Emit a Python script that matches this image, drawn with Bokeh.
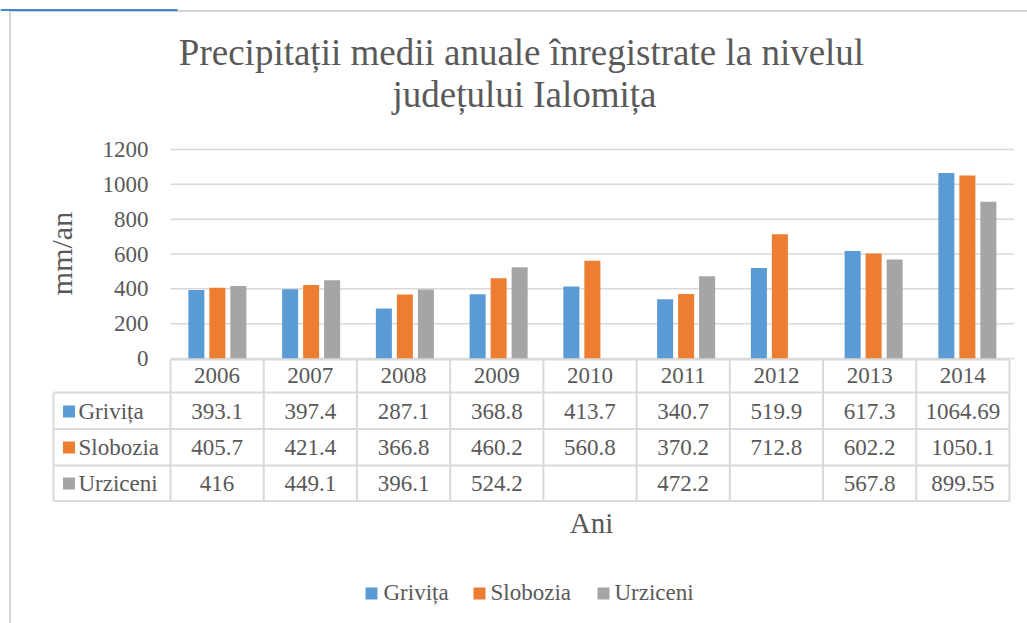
import math
from bokeh.plotting import figure
from bokeh.models import Range1d
from bokeh.core.properties import value
from bokeh.embed import file_html
from bokeh.resources import INLINE

# ---------------- data ----------------
years = ["2006", "2007", "2008", "2009", "2010", "2011", "2012", "2013", "2014"]
series_names = ["Grivița", "Slobozia", "Urziceni"]
grivita = [393.1, 397.4, 287.1, 368.8, 413.7, 340.7, 519.9, 617.3, 1064.69]
slobozia = [405.7, 421.4, 366.8, 460.2, 560.8, 370.2, 712.8, 602.2, 1050.1]
urziceni = [416, 449.1, 396.1, 524.2, None, 472.2, None, 567.8, 899.55]
y_ticks = [0, 200, 400, 600, 800, 1000, 1200]
title_lines = ["Precipitații medii anuale înregistrate la nivelul", "județului Ialomița"]
y_title = "mm/an"
x_title = "Ani"

# ---------------- style ----------------
COLORS = ["#5b9bd5", "#ed7d31", "#a5a5a5"]
TEXT = "#595959"
GRID = "#d9d9d9"

W, H = 1027, 623
PAGE_LEFT, PAGE_TOP = 0, 0
X0_PAGE = 170.0          # page x of category start
X_SCALE = 93.75          # px per category
Y0_PAGE = 358.0          # page y of value 0
Y_SCALE = (358.0 - 149.0) / 1200.0  # px per mm


def gx(px):
    return (px - X0_PAGE) / X_SCALE


def gy(py):
    return (Y0_PAGE - py) / Y_SCALE


p = figure(width=W, height=H, output_backend="svg", toolbar_location=None, title=None,
           x_range=Range1d(gx(PAGE_LEFT), gx(PAGE_LEFT + W)),
           y_range=Range1d(gy(PAGE_TOP + H), gy(PAGE_TOP)),
           x_axis_location=None, y_axis_location=None, min_border=0)
p.outline_line_color = None
p.background_fill_color = "white"
p.border_fill_color = "white"
p.grid.visible = False


def txt(xs, ys, labels, size, align="center", **kw):
    return p.text(x=xs, y=ys, text=labels, text_font=value("Liberation Serif"),
                  text_font_size=value(size), text_color=TEXT, text_align=align,
                  text_baseline="middle", **kw)


# chart border (left + top) and the cut-off link underline above it
p.segment(x0=[gx(9.5), gx(9.5)], y0=[gy(10.5), gy(10.5)],
          x1=[gx(9.5), gx(1027)], y1=[gy(623), gy(10.5)],
          line_color="#d4d4d4", line_width=2)
p.segment(x0=[gx(0)], y0=[gy(9.5)], x1=[gx(177)], y1=[gy(9.5)],
          line_color="#0563c1", line_width=1.5)

# title
txt([gx(521), gx(524)], [gy(51.5), gy(93.5)], title_lines, "37px")

# gridlines
n = len(years)
p.segment(x0=[0] * len(y_ticks), x1=[n] * len(y_ticks), y0=y_ticks, y1=y_ticks,
          line_color=GRID, line_width=1.5)

# y tick labels
txt([gx(148)] * len(y_ticks), y_ticks, [str(t) for t in y_ticks], "23px", align="right")

# y axis title
txt([gx(61)], [gy(253)], [y_title], "30px", angle=math.pi / 2)

# bars
series = [grivita, slobozia, urziceni]
offsets = [-0.224, 0.0, 0.224]
for vals, off, col in zip(series, offsets, COLORS):
    xs = [i + 0.5 + off for i in range(n)]
    tops = [float("nan") if v is None else v for v in vals]
    p.vbar(x=xs, top=tops, bottom=0, width=0.171, fill_color=col, line_color=None)

# data table
T_LEFT = 53.0
T_COL = [170.0 + k * 93.22 for k in range(n + 1)]
T_ROWS = [359.0, 392.0, 428.5, 465.0, 500.5]
TBL = "#d9d9d9"
p.segment(x0=[gx(T_COL[0])], x1=[gx(T_COL[-1])], y0=[gy(T_ROWS[0])], y1=[gy(T_ROWS[0])],
          line_color=TBL, line_width=2)
p.segment(x0=[gx(T_LEFT)] * 4, x1=[gx(T_COL[-1])] * 4,
          y0=[gy(r) for r in T_ROWS[1:]], y1=[gy(r) for r in T_ROWS[1:]],
          line_color=TBL, line_width=2)
p.segment(x0=[gx(c) for c in T_COL], x1=[gx(c) for c in T_COL],
          y0=[gy(T_ROWS[0])] * len(T_COL), y1=[gy(T_ROWS[-1])] * len(T_COL),
          line_color=TBL, line_width=2)
p.segment(x0=[gx(T_LEFT)], x1=[gx(T_LEFT)], y0=[gy(T_ROWS[1])], y1=[gy(T_ROWS[-1])],
          line_color=TBL, line_width=2)

col_centers = [gx((T_COL[k] + T_COL[k + 1]) / 2) for k in range(n)]
txt(col_centers, [gy(375)] * n, years, "23px")
row_mid = [411, 447, 483]
for vals, rm, name, col in zip(series, row_mid, series_names, COLORS):
    labels = ["" if v is None else f"{v:g}" for v in vals]
    txt(col_centers, [gy(rm)] * n, labels, "23px")
    p.scatter(x=[gx(68.5)], y=[gy(rm)], marker="square", size=12,
              fill_color=col, line_color=None)
    txt([gx(78)], [gy(rm)], [name], "23px", align="left")

# x axis title
txt([gx(591)], [gy(522)], [x_title], "29px")

# legend
leg_sq = [371, 479, 603]
leg_tx = [383, 490, 614]
for sx, tx, name, col in zip(leg_sq, leg_tx, series_names, COLORS):
    p.scatter(x=[gx(sx)], y=[gy(593)], marker="square", size=12,
              fill_color=col, line_color=None)
    txt([gx(tx)], [gy(592)], [name], "23px", align="left")

open("out.html", "w").write(file_html(p, INLINE))
